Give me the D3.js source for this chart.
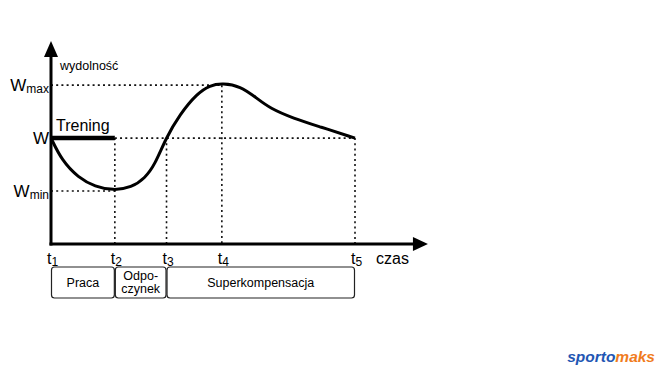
<!DOCTYPE html>
<html>
<head>
<meta charset="utf-8">
<script src="https://cdn.jsdelivr.net/npm/d3@7"></script>
<style>
  body { margin: 0; background: #fff; }
  svg { font-family: "Liberation Sans", Arial, sans-serif; }
</style>
</head>
<body>
<div id="chart"></div>
<script>
// time marks (share of the t1..t5 span, in %)
const tNames = ['1', '2', '3', '4', '5']
const tValues = [0, 21, 38, 56.2, 100]

// performance levels
const levelNames = ['max', '', 'min']
const levelValues = [130, 100, 70]

// performance curve
const curveX = [0, 3.5, 9, 14.5, 20.5, 26.5, 30.9, 34.2, 37.8, 42.4, 47.9, 52.3, 56.5, 62.2, 67.7, 72, 79.7, 88.5, 100]
const curveY = [100, 87.5, 77.5, 72.5, 70.3, 72, 77.3, 85, 100, 113.5, 125, 130, 131, 129.5, 122.6, 116.9, 111.2, 106.4, 100]

// phases under the axis
const phaseNames = [['Praca'], ['Odpo-', 'czynek'], ['Superkompensacja']]
const phaseStart = [0, 21, 38]
const phaseEnd = [21, 38, 100]

const WIDTH = 660
const HEIGHT = 371

const svg = d3.select('#chart').append('svg')
  .attr('width', WIDTH)
  .attr('height', HEIGHT)

const x = d3.scaleLinear().domain([0, 100]).range([51, 355])
const y = d3.scaleLinear().domain([40, 155]).range([244, 41])

const axisEnd = x(124)

// dotted guides
const dots = svg.append('g')
  .attr('stroke', '#111')
  .attr('stroke-width', 1.6)
  .attr('stroke-dasharray', '2,3.2')

// horizontal guides: Wmax to t4, W from t2 to t5, Wmin to t2
dots.append('line').attr('x1', x(0)).attr('x2', x(tValues[3]))
  .attr('y1', y(levelValues[0])).attr('y2', y(levelValues[0]))
dots.append('line').attr('x1', x(tValues[1])).attr('x2', x(tValues[4]))
  .attr('y1', y(levelValues[1])).attr('y2', y(levelValues[1]))
dots.append('line').attr('x1', x(0)).attr('x2', x(tValues[1]))
  .attr('y1', y(levelValues[2])).attr('y2', y(levelValues[2]))

// vertical guides
const vTop = [null, levelValues[1], levelValues[1], levelValues[0], levelValues[1]]
tValues.forEach((t, i) => {
  if (i === 0) return
  dots.append('line')
    .attr('x1', x(t)).attr('x2', x(t))
    .attr('y1', y(vTop[i])).attr('y2', y(40))
})

// curve
const pts = curveX.map((v, i) => [v, curveY[i]])
svg.append('path')
  .datum(pts)
  .attr('fill', 'none')
  .attr('stroke', '#000')
  .attr('stroke-width', 3)
  .attr('d', d3.line().x(d => x(d[0])).y(d => y(d[1])).curve(d3.curveBasis))

// training bar
svg.append('line')
  .attr('x1', x(0)).attr('x2', x(tValues[1]))
  .attr('y1', y(100)).attr('y2', y(100))
  .attr('stroke', '#000').attr('stroke-width', 4.5)
svg.append('text')
  .attr('x', x(0) + 5).attr('y', y(100) - 7)
  .attr('font-size', 16)
  .text('Trening')

// axes
svg.append('line')
  .attr('x1', x(0)).attr('x2', x(0))
  .attr('y1', y(40) + 1.5).attr('y2', 55)
  .attr('stroke', '#000').attr('stroke-width', 3)
svg.append('path')
  .attr('d', `M${x(0) - 7},57 L${x(0)},41 L${x(0) + 7},57 Z`)
  .attr('fill', '#000')
svg.append('line')
  .attr('x1', x(0) - 1.5).attr('x2', axisEnd - 12)
  .attr('y1', y(40)).attr('y2', y(40))
  .attr('stroke', '#000').attr('stroke-width', 3)
svg.append('path')
  .attr('d', `M${axisEnd - 15},${y(40) - 7} L${axisEnd},${y(40)} L${axisEnd - 15},${y(40) + 7} Z`)
  .attr('fill', '#000')

// y labels
svg.append('text')
  .attr('x', x(0) + 9).attr('y', 70)
  .attr('font-size', 12.5)
  .text('wydolność')

levelNames.forEach((n, i) => {
  const t = svg.append('text')
    .attr('x', x(0) - 2).attr('y', y(levelValues[i]) + 6)
    .attr('text-anchor', 'end')
    .attr('font-size', 17)
  t.append('tspan').text('W')
  if (n) t.append('tspan').attr('font-size', 12).attr('dy', 2).text(n)
})

// t labels
tValues.forEach((t, i) => {
  const lbl = svg.append('text')
    .attr('x', x(t) - 4).attr('y', y(40) + 20)
    .attr('font-size', 16)
  lbl.append('tspan').text('t')
  lbl.append('tspan').attr('font-size', 12).attr('dy', 2).text(tNames[i])
})
svg.append('text')
  .attr('x', 376).attr('y', y(40) + 20)
  .attr('font-size', 16)
  .text('czas')

// phase boxes
phaseNames.forEach((lines, i) => {
  const x0 = x(phaseStart[i]), x1 = x(phaseEnd[i])
  svg.append('rect')
    .attr('x', x0 + 0.5).attr('y', 267)
    .attr('width', x1 - x0 - 1).attr('height', 31)
    .attr('rx', 3)
    .attr('fill', 'none').attr('stroke', '#222').attr('stroke-width', 1.2)
  const tx = svg.append('text')
    .attr('x', (x0 + x1) / 2)
    .attr('text-anchor', 'middle')
    .attr('font-size', 12.5)
  if (lines.length === 1) {
    tx.attr('y', 287).text(lines[0])
  } else {
    tx.attr('y', 280)
    lines.forEach((l, j) => tx.append('tspan').attr('x', (x0 + x1) / 2).attr('dy', j ? 13 : 0).text(l))
  }
})

// logo
const logo = svg.append('text')
  .attr('x', 655).attr('y', 362)
  .attr('text-anchor', 'end')
  .attr('font-size', 15.5)
  .attr('font-weight', 'bold')
  .attr('font-style', 'italic')
logo.append('tspan').attr('fill', '#1f56b3').text('sporto')
logo.append('tspan').attr('fill', '#f07c1e').text('maks')
</script>
</body>
</html>
